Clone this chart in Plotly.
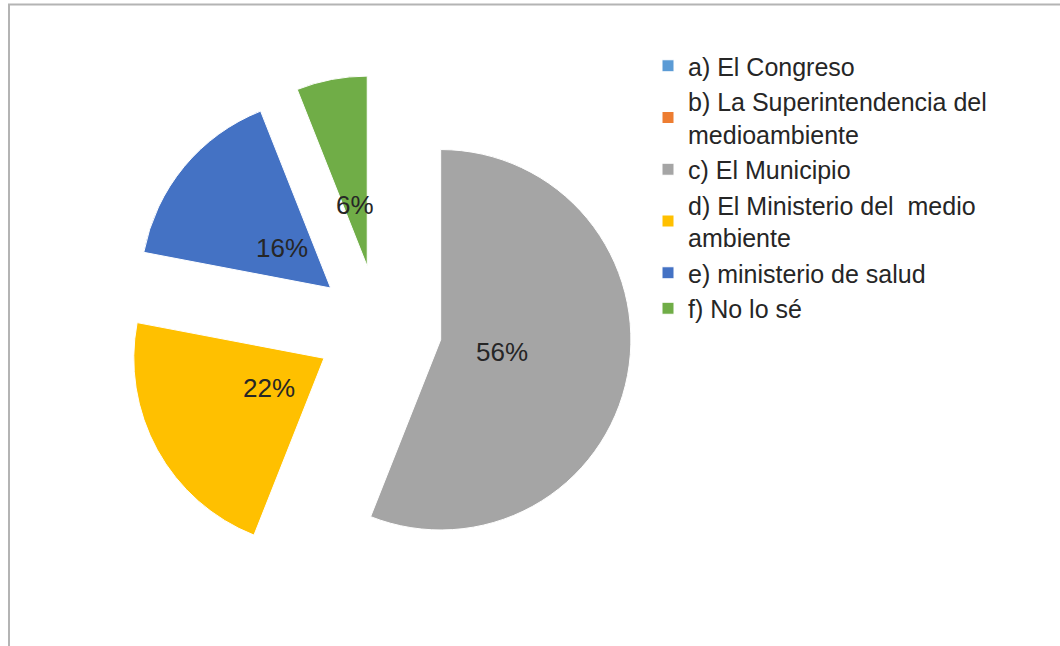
import math
import plotly.graph_objects as go

# ---- data ----
categories = [
    "a) El Congreso",
    "b) La Superintendencia del<br>medioambiente",
    "c) El Municipio",
    "d) El Ministerio del  medio<br>ambiente",
    "e) ministerio de salud",
    "f) No lo sé",
]
values = [0, 0, 56, 22, 16, 6]
colors = ["#5B9BD5", "#ED7D31", "#A5A5A5", "#FFC000", "#4472C4", "#70AD47"]

W, H = 1060, 646
PULL = 0.33
FONT = "Liberation Sans, Arial, sans-serif"
TXT = "#262626"
# pie domain (paper fractions, margins are zero so paper == page)
dom_x = [126 / W, 632 / W]
dom_y = [1 - 581 / H, 1 - 75 / H]

fig = go.Figure()
fig.add_trace(go.Pie(
    labels=categories,
    values=values,
    marker=dict(colors=colors, line=dict(color="white", width=1)),
    sort=False,
    direction="clockwise",
    rotation=0,
    pull=[PULL] * len(values),
    textinfo="none",
    hoverinfo="label+percent",
    domain=dict(x=dom_x, y=dom_y),
    showlegend=True,
))

# percentage labels placed from the slice angles
bw = W * (dom_x[1] - dom_x[0])
bh = H * (dom_y[1] - dom_y[0])
r = min(bw, bh) / (2 + 2 * PULL)
cx = W * (dom_x[0] + dom_x[1]) / 2
cy = H * (1 - dom_y[0]) - bh / 2
total = sum(values)
start = 0.0
annotations = []
for v in values:
    frac = v / total
    if v > 0:
        mid = (start + frac / 2) * 2 * math.pi
        dist = (PULL + 0.33) * r
        px = cx + dist * math.sin(mid)
        py = cy - dist * math.cos(mid)
        annotations.append(dict(
            x=px / W, y=1 - py / H, xref="paper", yref="paper",
            text=f"{round(frac * 100)}%", showarrow=False,
            font=dict(family=FONT, size=26, color=TXT),
            xanchor="center", yanchor="middle",
        ))
    start += frac

fig.update_layout(
    width=W, height=H,
    margin=dict(l=0, r=0, t=0, b=0),
    paper_bgcolor="white",
    plot_bgcolor="white",
    font=dict(family=FONT, size=25, color=TXT),
    legend=dict(
        x=648 / W, y=1 - 187 / H, xanchor="left", yanchor="middle",
        font=dict(family=FONT, size=25, color=TXT),
        traceorder="normal",
        itemwidth=30,
        tracegroupgap=0,
    ),
    annotations=annotations,
    shapes=[
        dict(type="line", xref="paper", yref="paper",
             x0=8 / W, x1=1, y0=1 - 4.5 / H, y1=1 - 4.5 / H,
             line=dict(color="#b4b4b4", width=2)),
        dict(type="line", xref="paper", yref="paper",
             x0=9 / W, x1=9 / W, y0=0, y1=1 - 4 / H,
             line=dict(color="#b4b4b4", width=2)),
    ],
)

fig.write_html("out.html", config={"displayModeBar": False},
               post_script="document.body.style.margin='0';")
